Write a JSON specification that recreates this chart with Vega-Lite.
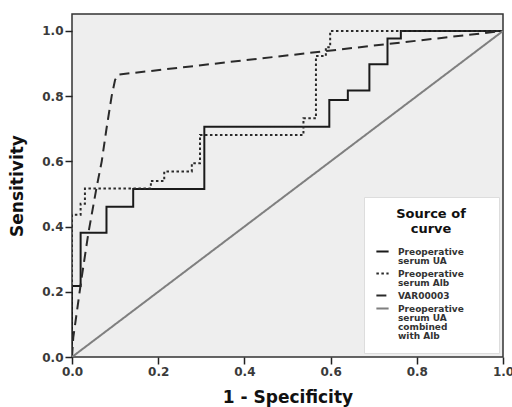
{
  "$schema": "https://vega.github.io/schema/vega-lite/v6.json",
  "width": 431,
  "height": 343,
  "autosize": "none",
  "padding": {"left": 72, "top": 14, "right": 9, "bottom": 50},
  "background": "white",
  "config": {
    "view": {"fill": "#eeeeee", "stroke": "#333333", "strokeWidth": 1.5},
    "font": "DejaVu Sans",
    "style": {"guide-label": {"lineHeight": 9.2}},
    "axis": {
      "domain": false, "grid": false, "tickColor": "#222222", "tickSize": 7, "tickWidth": 1.5,
      "labelFont": "DejaVu Sans", "labelFontSize": 12, "labelFontWeight": "bold", "labelColor": "#3a3a3a", "labelFlush": false,
      "titleFont": "DejaVu Sans", "titleFontSize": 17, "titleFontWeight": "bold", "titleColor": "#111111"
    }
  },
  "data": {"values": [
    {"s":"A","o":1,"x":0,"y":0},{"s":"A","o":2,"x":0,"y":0.218},{"s":"A","o":3,"x":0.02,"y":0.218},{"s":"A","o":4,"x":0.02,"y":0.381},
    {"s":"A","o":5,"x":0.08,"y":0.381},{"s":"A","o":6,"x":0.08,"y":0.461},{"s":"A","o":7,"x":0.142,"y":0.461},{"s":"A","o":8,"x":0.142,"y":0.515},
    {"s":"A","o":9,"x":0.307,"y":0.515},{"s":"A","o":10,"x":0.307,"y":0.706},{"s":"A","o":11,"x":0.597,"y":0.706},{"s":"A","o":12,"x":0.597,"y":0.788},
    {"s":"A","o":13,"x":0.64,"y":0.788},{"s":"A","o":14,"x":0.64,"y":0.817},{"s":"A","o":15,"x":0.69,"y":0.817},{"s":"A","o":16,"x":0.69,"y":0.898},
    {"s":"A","o":17,"x":0.732,"y":0.898},{"s":"A","o":18,"x":0.732,"y":0.977},{"s":"A","o":19,"x":0.763,"y":0.977},{"s":"A","o":20,"x":0.763,"y":1.0},
    {"s":"A","o":21,"x":1,"y":1},
    {"s":"B","o":1,"x":0,"y":0},{"s":"B","o":2,"x":0,"y":0.436},{"s":"B","o":3,"x":0.02,"y":0.436},{"s":"B","o":4,"x":0.02,"y":0.47},
    {"s":"B","o":5,"x":0.03,"y":0.47},{"s":"B","o":6,"x":0.03,"y":0.517},{"s":"B","o":7,"x":0.183,"y":0.517},{"s":"B","o":8,"x":0.183,"y":0.54},
    {"s":"B","o":9,"x":0.214,"y":0.54},{"s":"B","o":10,"x":0.214,"y":0.569},{"s":"B","o":11,"x":0.278,"y":0.569},{"s":"B","o":12,"x":0.278,"y":0.594},
    {"s":"B","o":13,"x":0.297,"y":0.594},{"s":"B","o":14,"x":0.297,"y":0.681},{"s":"B","o":15,"x":0.537,"y":0.681},{"s":"B","o":16,"x":0.537,"y":0.732},
    {"s":"B","o":17,"x":0.566,"y":0.732},{"s":"B","o":18,"x":0.566,"y":0.923},{"s":"B","o":19,"x":0.589,"y":0.923},{"s":"B","o":20,"x":0.589,"y":0.95},
    {"s":"B","o":21,"x":0.599,"y":0.95},{"s":"B","o":22,"x":0.599,"y":1.0},{"s":"B","o":23,"x":1,"y":1},
    {"s":"C","o":1,"x":0,"y":0},{"s":"C","o":2,"x":0.003,"y":0.06},{"s":"C","o":3,"x":0.022,"y":0.24},{"s":"C","o":4,"x":0.038,"y":0.38},
    {"s":"C","o":5,"x":0.057,"y":0.52},{"s":"C","o":6,"x":0.069,"y":0.6},{"s":"C","o":7,"x":0.08,"y":0.7},{"s":"C","o":8,"x":0.092,"y":0.8},
    {"s":"C","o":9,"x":0.1,"y":0.85},{"s":"C","o":10,"x":0.107,"y":0.866},{"s":"C","o":11,"x":1,"y":1},
    {"s":"D","o":1,"x":0,"y":0},{"s":"D","o":2,"x":1,"y":1}
  ]},
  "mark": {"type": "line", "clip": true},
  "encoding": {
    "x": {"field": "x", "type": "quantitative", "scale": {"domain": [0, 1], "nice": false},
          "axis": {"values": [0, 0.2, 0.4, 0.6, 0.8, 1.0], "format": ".1f", "title": "1 - Specificity", "titlePadding": 12, "labelPadding": 2}},
    "y": {"field": "y", "type": "quantitative", "scale": {"domain": [0, 1.052], "nice": false},
          "axis": {"values": [0, 0.2, 0.4, 0.6, 0.8, 1.0], "format": ".1f", "title": "Sensitivity", "titlePadding": 15, "labelPadding": 2}},
    "order": {"field": "o", "type": "quantitative"},
    "color": {"field": "s", "type": "nominal",
              "scale": {"domain": ["A", "B", "C", "D"], "range": ["#1a1a1a", "#2a2a2a", "#2a2a2a", "#7f7f7f"]},
              "legend": {
                "orient": "none", "legendX": 292, "legendY": 183,
                "title": ["Source of", "curve"], "titleFont": "DejaVu Sans", "titleFontSize": 13, "titleFontWeight": "bold", "titleColor": "#111111",
                "titleAnchor": "middle", "titleAlign": "center", "titleLimit": 200, "titleLineHeight": 15, "titlePadding": 8,
                "fillColor": "white", "strokeColor": "#dddddd", "padding": 11,
                "symbolType": "stroke", "symbolSize": 150, "symbolStrokeWidth": 2,
                "labelFont": "DejaVu Sans", "labelFontSize": 9, "labelFontWeight": "bold", "labelColor": "#333333", "labelLimit": 200, "labelOffset": 8,
                "rowPadding": 0,
                "labelExpr": "datum.label == 'A' ? ['Preoperative \u2800\u2800\u2800', 'serum UA'] : datum.label == 'B' ? ['Preoperative', 'serum Alb'] : datum.label == 'C' ? 'VAR00003' : ['Preoperative', 'serum UA', 'combined', 'with Alb']"
              }},
    "strokeDash": {"field": "s", "type": "nominal",
                   "scale": {"domain": ["A", "B", "C", "D"], "range": [[1, 0], [2.5, 2.5], [10, 6], [1, 0]]}},
    "strokeWidth": {"field": "s", "type": "nominal",
                    "scale": {"domain": ["A", "B", "C", "D"], "range": [2, 2, 2, 1.4]}}
  }
}
